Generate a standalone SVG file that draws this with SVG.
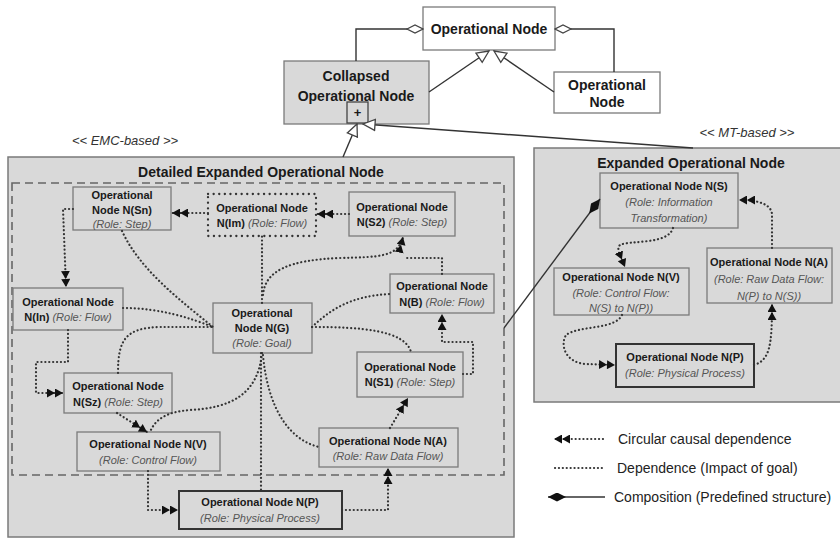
<svg xmlns="http://www.w3.org/2000/svg" width="840" height="540" viewBox="0 0 840 540">
<style>
text{font-family:"Liberation Sans",Arial,sans-serif;fill:#1a1a1a}
.b{font-weight:bold;font-size:11px}
.i{font-style:italic;font-size:11px;fill:#555;font-weight:normal}
.t{font-weight:bold;font-size:14px}
.st{font-style:italic;font-size:13px;fill:#333}
.lg{font-size:14px;fill:#222}
.node{fill:none;stroke:#7a7a7a;stroke-width:1.3}
.thick{fill:none;stroke:#333;stroke-width:2}
.dot{fill:none;stroke:#333;stroke-width:2.2;stroke-linecap:round;stroke-dasharray:0.1 3.8}
.solid{fill:none;stroke:#333;stroke-width:1.4}
</style>
<defs>
<marker id="dbl" viewBox="0 0 16 9" refX="16" refY="4.5" markerWidth="16" markerHeight="9" orient="auto" markerUnits="userSpaceOnUse"><path d="M0,0 L8,4.5 L0,9 Z M8,0 L16,4.5 L8,9 Z" fill="#111"/></marker>
<marker id="tri" viewBox="0 0 14 14" refX="13" refY="7" markerWidth="14" markerHeight="14" orient="auto" markerUnits="userSpaceOnUse"><path d="M1,1.5 L13,7 L1,12.5 Z" fill="#fff" stroke="#444" stroke-width="1.3"/></marker>
<marker id="hdia" viewBox="0 0 18 10" refX="17" refY="5" markerWidth="18" markerHeight="10" orient="auto" markerUnits="userSpaceOnUse"><path d="M1,5 L9,1 L17,5 L9,9 Z" fill="#fff" stroke="#444" stroke-width="1.3"/></marker>
<marker id="fdia" viewBox="0 0 18 9" refX="18" refY="4.5" markerWidth="18" markerHeight="9" orient="auto" markerUnits="userSpaceOnUse"><path d="M0,4.5 L9,0 L18,4.5 L9,9 Z" fill="#111"/></marker>
</defs>
<rect width="840" height="540" fill="#fff"/>

<!-- panels -->
<g id="panel-detailed">
<rect x="8" y="157" width="506" height="380" fill="#d9d9d9" stroke="#7a7a7a" stroke-width="1.5"/>
<text class="t" x="261" y="177" text-anchor="middle">Detailed Expanded Operational Node</text>
<rect x="12" y="183" width="492" height="292" fill="none" stroke="#666" stroke-width="1.6" stroke-dasharray="8 5"/>
<text class="st" x="125" y="145" text-anchor="middle">&lt;&lt; EMC-based &gt;&gt;</text>
</g>
<g id="panel-expanded">
<rect x="534" y="148" width="312" height="254" fill="#d9d9d9" stroke="#7a7a7a" stroke-width="1.5"/>
<text class="t" x="691" y="168" text-anchor="middle">Expanded Operational Node</text>
<text class="st" x="747" y="137" text-anchor="middle">&lt;&lt; MT-based &gt;&gt;</text>
</g>

<!-- top nodes -->
<g id="op-top">
<rect x="423" y="7" width="132" height="43" fill="#fff" stroke="#7a7a7a" stroke-width="1.3"/>
<text class="t" x="489" y="34" text-anchor="middle">Operational Node</text>
</g>
<g id="collapsed">
<rect x="284" y="61" width="145" height="63" fill="#d9d9d9" stroke="#7a7a7a" stroke-width="1.3"/>
<text class="t" x="356" y="81" text-anchor="middle">Collapsed</text>
<text class="t" x="356" y="101" text-anchor="middle">Operational Node</text>
<rect x="347" y="102" width="21" height="21" fill="#d9d9d9" stroke="#444" stroke-width="1.3"/>
<text class="t" x="357.5" y="117" text-anchor="middle" style="font-size:13px">+</text>
</g>
<g id="op-right">
<rect x="554" y="72" width="106" height="41" fill="#fff" stroke="#7a7a7a" stroke-width="1.3"/>
<text class="t" x="607" y="90" text-anchor="middle">Operational</text>
<text class="t" x="607" y="107" text-anchor="middle">Node</text>
</g>

<!-- left panel nodes -->
<g id="l-sn"><rect class="node" x="73" y="187" width="98" height="43"/>
<text class="b" x="122" y="199" text-anchor="middle">Operational</text>
<text class="b" x="122" y="214" text-anchor="middle">Node N(Sn)</text>
<text class="i" x="122" y="228" text-anchor="middle">(Role: Step)</text></g>
<g id="l-im"><rect x="208" y="194" width="108" height="42" fill="none" stroke="#333" stroke-width="2.3" stroke-linecap="round" stroke-dasharray="0.1 5.5"/>
<text class="b" x="262" y="212" text-anchor="middle">Operational Node</text>
<text class="b" x="262" y="227" text-anchor="middle">N(Im) <tspan class="i">(Role: Flow)</tspan></text></g>
<g id="l-s2"><rect class="node" x="349" y="192" width="106" height="44"/>
<text class="b" x="402" y="211" text-anchor="middle">Operational Node</text>
<text class="b" x="402" y="226" text-anchor="middle">N(S2) <tspan class="i">(Role: Step)</tspan></text></g>
<g id="l-b"><rect class="node" x="390" y="274" width="104" height="39"/>
<text class="b" x="442" y="290" text-anchor="middle">Operational Node</text>
<text class="b" x="442" y="306" text-anchor="middle">N(B) <tspan class="i">(Role: Flow)</tspan></text></g>
<g id="l-in"><rect class="node" x="13" y="288" width="110" height="42"/>
<text class="b" x="68" y="306" text-anchor="middle">Operational Node</text>
<text class="b" x="68" y="321" text-anchor="middle">N(In) <tspan class="i">(Role: Flow)</tspan></text></g>
<g id="l-g"><rect class="node" x="213" y="303" width="99" height="50"/>
<text class="b" x="262" y="317" text-anchor="middle">Operational</text>
<text class="b" x="262" y="332" text-anchor="middle">Node N(G)</text>
<text class="i" x="262" y="347" text-anchor="middle">(Role: Goal)</text></g>
<g id="l-s1"><rect class="node" x="357" y="352" width="106" height="45"/>
<text class="b" x="410" y="371" text-anchor="middle">Operational Node</text>
<text class="b" x="410" y="386" text-anchor="middle">N(S1) <tspan class="i">(Role: Step)</tspan></text></g>
<g id="l-sz"><rect class="node" x="64" y="373" width="108" height="40"/>
<text class="b" x="118" y="390" text-anchor="middle">Operational Node</text>
<text class="b" x="118" y="406" text-anchor="middle">N(Sz) <tspan class="i">(Role: Step)</tspan></text></g>
<g id="l-v"><rect class="node" x="77" y="432" width="143" height="39"/>
<text class="b" x="148" y="448" text-anchor="middle">Operational Node N(V)</text>
<text class="i" x="148" y="464" text-anchor="middle">(Role: Control Flow)</text></g>
<g id="l-a"><rect class="node" x="319" y="428" width="139" height="39"/>
<text class="b" x="388" y="445" text-anchor="middle">Operational Node N(A)</text>
<text class="i" x="388" y="460" text-anchor="middle">(Role: Raw Data Flow)</text></g>
<g id="l-p"><rect class="thick" x="179" y="491" width="163" height="38"/>
<text class="b" x="260" y="506" text-anchor="middle">Operational Node N(P)</text>
<text class="i" x="260" y="522" text-anchor="middle">(Role: Physical Process)</text></g>

<!-- right panel nodes -->
<g id="r-s"><rect class="node" x="600" y="173" width="138" height="55"/>
<text class="b" x="669" y="190" text-anchor="middle">Operational Node N(S)</text>
<text class="i" x="669" y="206" text-anchor="middle">(Role: Information</text>
<text class="i" x="669" y="222" text-anchor="middle">Transformation)</text></g>
<g id="r-v"><rect class="node" x="554" y="268" width="135" height="47"/>
<text class="b" x="621" y="281" text-anchor="middle">Operational Node N(V)</text>
<text class="i" x="621" y="297" text-anchor="middle">(Role: Control Flow:</text>
<text class="i" x="621" y="312" text-anchor="middle">N(S) to N(P))</text></g>
<g id="r-a"><rect class="node" x="707" y="248" width="125" height="55"/>
<text class="b" x="769" y="266" text-anchor="middle">Operational Node N(A)</text>
<text class="i" x="769" y="283" text-anchor="middle">(Role: Raw Data Flow:</text>
<text class="i" x="769" y="300" text-anchor="middle">N(P) to N(S))</text></g>
<g id="r-p"><rect class="thick" x="616" y="344" width="138" height="43"/>
<text class="b" x="685" y="361" text-anchor="middle">Operational Node N(P)</text>
<text class="i" x="685" y="377" text-anchor="middle">(Role: Physical Process)</text></g>

<!-- connectors -->
<g id="connectors">
<path class="solid" d="M356,61 V29 H423" marker-end="url(#hdia)"/>
<path class="solid" d="M614,72 V29 H555" marker-end="url(#hdia)"/>
<path class="solid" d="M429,92 L489,51" marker-end="url(#tri)"/>
<path class="solid" d="M554,92 L494,51" marker-end="url(#tri)"/>
<path class="solid" d="M343,157 L357,124" marker-end="url(#tri)"/>
<path class="solid" d="M693,148 L363,124" marker-end="url(#tri)"/>
<path class="solid" d="M504,328 L600,199" marker-end="url(#fdia)"/>

<path class="dot" d="M208,213 H172" marker-end="url(#dbl)"/>
<path class="dot" d="M349,214 H317" marker-end="url(#dbl)"/>
<path class="dot" d="M73,209 H63 L66,287" marker-end="url(#dbl)"/>
<path class="dot" d="M122,231 C140,270 180,300 213,327"/>
<path class="dot" d="M123,308 C160,308 190,318 213,327"/>
<path class="dot" d="M118,373 C118,340 125,328 160,327 H213"/>
<path class="dot" d="M262,303 V236"/>
<path class="dot" d="M263,295 C265,270 290,260 340,258 C380,257 398,257 403,237" marker-end="url(#dbl)"/>
<path class="dot" d="M442,274 V258 H405"/>
<path class="dot" d="M312,327 C330,310 350,296 390,294"/>
<path class="dot" d="M312,327 C360,327 405,330 411,352"/>
<path class="dot" d="M261,353 V491"/>
<path class="dot" d="M262,353 C258,395 230,408 190,410 C165,412 155,420 150,432"/>
<path class="dot" d="M263,355 C268,410 290,440 319,447"/>
<path class="dot" d="M117,413 L147,432" marker-end="url(#dbl)"/>
<path class="dot" d="M68,330 V362 H36 V393 H63" marker-end="url(#dbl)"/>
<path class="dot" d="M148,471 V510 H178" marker-end="url(#dbl)"/>
<path class="dot" d="M342,510 H388 V468" marker-end="url(#dbl)"/>
<path class="dot" d="M390,428 L408,398" marker-end="url(#dbl)"/>
<path class="dot" d="M463,374 H473 V342 H442 V314" marker-end="url(#dbl)"/>

<path class="dot" d="M673,228 C668,245 630,240 620,245 C616,248 620,255 625,267" marker-end="url(#dbl)"/>
<path class="dot" d="M622,315 C615,330 580,325 566,335 C560,345 565,362 585,364 L615,365" marker-end="url(#dbl)"/>
<path class="dot" d="M754,365 C770,360 772,345 772,304" marker-end="url(#dbl)"/>
<path class="dot" d="M772,248 V215 C772,205 760,200 739,200" marker-end="url(#dbl)"/>
</g>

<!-- legend -->
<g id="legend">
<path class="dot" d="M603,439 H554" marker-end="url(#dbl)"/>
<text class="lg" x="618" y="444">Circular causal dependence</text>
<path class="dot" d="M555,468 H603"/>
<text class="lg" x="617" y="473">Dependence (Impact of goal)</text>
<path class="solid" d="M605,497 H548" marker-end="url(#fdia)"/>
<text class="lg" x="614" y="502">Composition (Predefined structure)</text>
</g>
</svg>
